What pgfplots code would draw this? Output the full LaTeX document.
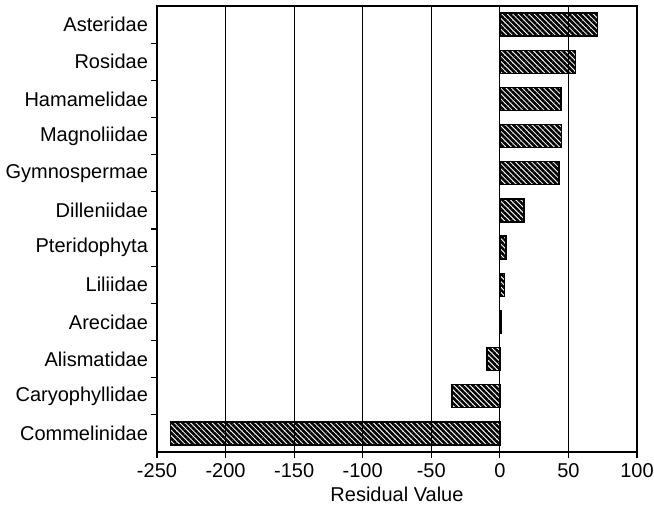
\documentclass[border=0pt]{standalone}
\usepackage{fontspec}
\setmainfont{Liberation Sans}
\usepackage{pgfplots}
\pgfplotsset{compat=1.18}
\usetikzlibrary{patterns.meta}

\begin{document}
\begin{tikzpicture}
\begin{axis}[
  scale only axis,
  width=240pt, height=223pt,
  xmin=-250, xmax=100,
  ymin=-0.5, ymax=11.5,
  xtick={-250,-200,...,100},
  ytick={0,...,11},
  yticklabels={Commelinidae,Caryophyllidae,Alismatidae,Arecidae,Liliidae,Pteridophyta,Dilleniidae,Gymnospermae,Magnoliidae,Hamamelidae,Rosidae,Asteridae},
  ytick style={draw=none},
  extra y ticks={0.5,1.5,...,10.5},
  extra y tick labels={},
  extra y tick style={ytick style={draw=black,line width=0.6pt}, major tick length=3pt, grid=none},
  tick align=outside,
  xtick pos=bottom, ytick pos=left,
  major tick length=3pt,
  xmajorgrids,
  grid style={black, line width=0.5pt},
  axis line style={line width=0.7pt},
  tick style={black, line width=0.6pt},
  font=\fontsize{10}{12}\selectfont,
  /pgf/number format/assume math mode=true,
  xlabel={Residual Value},
  xlabel style={yshift=2pt},
  xticklabel style={yshift=1pt},
  yticklabel style={xshift=2pt},
  xbar, bar width=0.62,
]
% residuals, bottom to top
\addplot[draw=black, line width=0.7pt,
  pattern={Lines[angle=-45,distance=1.9pt,line width=1.3pt]}, pattern color=black]
  coordinates {
    (-240,0) (-35,1) (-9.5,2) (1,3) (3.5,4) (4.5,5)
    (17.5,6) (43,7) (45,8) (44.5,9) (55,10) (71,11)
  };
\end{axis}
\pgfresetboundingbox
\path (-78.5pt,-28.5pt) rectangle (248.5pt,226pt);
\end{tikzpicture}
\end{document}
